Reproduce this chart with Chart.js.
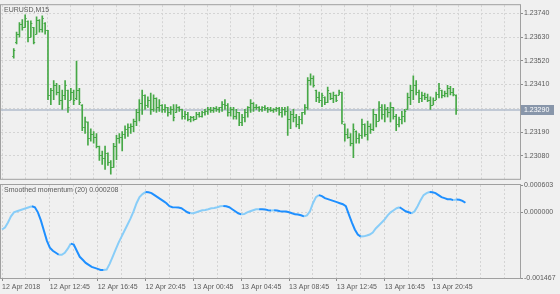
<!DOCTYPE html>
<html>
<head>
<meta charset="utf-8">
<script src="https://cdn.jsdelivr.net/npm/chart.js@4/dist/chart.umd.min.js"></script>
<style>
  body { margin: 0; background: #f0f0f0; }
  #wrap { position: relative; width: 560px; height: 294px; overflow: hidden; }
  canvas { position: absolute; left: 0; }
</style>
</head>
<body>
<div id="wrap">
  <canvas id="priceChart" width="560" height="184" style="top:0"></canvas>
  <canvas id="momChart" width="560" height="124" style="top:170px"></canvas>
</div>
<script>
// ---------- DATA ----------
const symbolLabel = "EURUSD,M15";
const indicatorName = "Smoothed momentum (20)";

// x tick labels, one every 16 bars (4 hours of M15)
const timeLabels = ['12 Apr 2018', '12 Apr 12:45', '12 Apr 16:45', '12 Apr 20:45', '13 Apr 00:45',
    '13 Apr 04:45', '13 Apr 08:45', '13 Apr 12:45', '13 Apr 16:45', '13 Apr 20:45'];

const priceTicks = [1.23740, 1.23630, 1.23520, 1.23410, 1.23300, 1.23190, 1.23080];
const momentumTicks = [0.000603, 0, -0.001467];

const openP = [
    1.23541, 1.23608, 1.23644, 1.23689, 1.23675, 1.23706, 1.23630, 1.23675, 1.23644, 1.23711,
    1.23666, 1.23697, 1.23662, 1.23362, 1.23384, 1.23407, 1.23375, 1.23340, 1.23362, 1.23384,
    1.23340, 1.23375, 1.23348, 1.23384, 1.23317, 1.23214, 1.23237, 1.23160, 1.23183, 1.23169,
    1.23125, 1.23084, 1.23071, 1.23093, 1.23049, 1.23026, 1.23125, 1.23160, 1.23169, 1.23183,
    1.23205, 1.23214, 1.23219, 1.23241, 1.23281, 1.23326, 1.23362, 1.23317, 1.23340, 1.23295,
    1.23348, 1.23304, 1.23317, 1.23295, 1.23304, 1.23281, 1.23295, 1.23281, 1.23308, 1.23295,
    1.23263, 1.23272, 1.23250, 1.23259, 1.23250, 1.23272, 1.23263, 1.23281, 1.23286, 1.23295,
    1.23290, 1.23299, 1.23295, 1.23304, 1.23322, 1.23313, 1.23281, 1.23295, 1.23263, 1.23281,
    1.23237, 1.23259, 1.23281, 1.23304, 1.23326, 1.23304, 1.23308, 1.23295, 1.23304, 1.23299,
    1.23295, 1.23290, 1.23295, 1.23299, 1.23281, 1.23295, 1.23286, 1.23250, 1.23272, 1.23259,
    1.23228, 1.23250, 1.23281, 1.23304, 1.23429, 1.23442, 1.23384, 1.23353, 1.23340, 1.23353,
    1.23331, 1.23371, 1.23348, 1.23362, 1.23362, 1.23375, 1.23228, 1.23183, 1.23169, 1.23138,
    1.23196, 1.23160, 1.23174, 1.23228, 1.23183, 1.23219, 1.23205, 1.23272, 1.23241, 1.23308,
    1.23272, 1.23295, 1.23281, 1.23304, 1.23263, 1.23228, 1.23250, 1.23263, 1.23295, 1.23353,
    1.23384, 1.23407, 1.23375, 1.23348, 1.23362, 1.23353, 1.23340, 1.23317, 1.23340, 1.23366,
    1.23384, 1.23362, 1.23371, 1.23393, 1.23375, 1.23362
];
const highP = [
    1.23577, 1.23653, 1.23697, 1.23711, 1.23733, 1.23706, 1.23706, 1.23675, 1.23724, 1.23711,
    1.23729, 1.23697, 1.23662, 1.23393, 1.23429, 1.23416, 1.23407, 1.23384, 1.23429, 1.23384,
    1.23393, 1.23384, 1.23519, 1.23393, 1.23317, 1.23259, 1.23237, 1.23205, 1.23192, 1.23183,
    1.23125, 1.23102, 1.23125, 1.23093, 1.23058, 1.23138, 1.23174, 1.23183, 1.23192, 1.23219,
    1.23228, 1.23228, 1.23250, 1.23295, 1.23340, 1.23384, 1.23362, 1.23353, 1.23371, 1.23362,
    1.23348, 1.23340, 1.23317, 1.23317, 1.23304, 1.23308, 1.23317, 1.23317, 1.23308, 1.23295,
    1.23286, 1.23281, 1.23263, 1.23263, 1.23281, 1.23281, 1.23286, 1.23295, 1.23304, 1.23304,
    1.23304, 1.23308, 1.23304, 1.23331, 1.23340, 1.23322, 1.23304, 1.23304, 1.23295, 1.23281,
    1.23272, 1.23295, 1.23308, 1.23340, 1.23326, 1.23317, 1.23308, 1.23308, 1.23313, 1.23304,
    1.23304, 1.23299, 1.23304, 1.23304, 1.23304, 1.23304, 1.23308, 1.23286, 1.23295, 1.23272,
    1.23263, 1.23281, 1.23317, 1.23442, 1.23460, 1.23451, 1.23384, 1.23375, 1.23371, 1.23353,
    1.23398, 1.23371, 1.23375, 1.23362, 1.23384, 1.23375, 1.23228, 1.23205, 1.23183, 1.23228,
    1.23196, 1.23183, 1.23250, 1.23228, 1.23241, 1.23228, 1.23295, 1.23272, 1.23331, 1.23317,
    1.23317, 1.23304, 1.23326, 1.23304, 1.23272, 1.23259, 1.23286, 1.23295, 1.23371, 1.23407,
    1.23451, 1.23429, 1.23384, 1.23375, 1.23371, 1.23366, 1.23353, 1.23348, 1.23375, 1.23416,
    1.23384, 1.23380, 1.23407, 1.23402, 1.23393, 1.23362
];
const lowP = [
    1.23532, 1.23599, 1.23630, 1.23662, 1.23675, 1.23608, 1.23630, 1.23599, 1.23644, 1.23653,
    1.23653, 1.23644, 1.23340, 1.23317, 1.23340, 1.23362, 1.23317, 1.23295, 1.23340, 1.23281,
    1.23340, 1.23317, 1.23340, 1.23317, 1.23196, 1.23183, 1.23129, 1.23147, 1.23138, 1.23116,
    1.23058, 1.23040, 1.23017, 1.23035, 1.22995, 1.23026, 1.23062, 1.23138, 1.23102, 1.23160,
    1.23169, 1.23183, 1.23192, 1.23219, 1.23241, 1.23272, 1.23295, 1.23304, 1.23272, 1.23286,
    1.23281, 1.23286, 1.23281, 1.23281, 1.23263, 1.23272, 1.23241, 1.23281, 1.23286, 1.23250,
    1.23250, 1.23241, 1.23237, 1.23241, 1.23250, 1.23259, 1.23259, 1.23268, 1.23272, 1.23281,
    1.23281, 1.23286, 1.23281, 1.23286, 1.23295, 1.23263, 1.23263, 1.23250, 1.23250, 1.23219,
    1.23219, 1.23237, 1.23259, 1.23281, 1.23286, 1.23295, 1.23286, 1.23286, 1.23290, 1.23281,
    1.23286, 1.23281, 1.23286, 1.23268, 1.23259, 1.23268, 1.23174, 1.23205, 1.23237, 1.23214,
    1.23205, 1.23228, 1.23272, 1.23295, 1.23407, 1.23398, 1.23331, 1.23326, 1.23308, 1.23317,
    1.23326, 1.23340, 1.23326, 1.23331, 1.23362, 1.23228, 1.23147, 1.23160, 1.23125, 1.23071,
    1.23138, 1.23138, 1.23160, 1.23169, 1.23152, 1.23183, 1.23196, 1.23214, 1.23241, 1.23250,
    1.23237, 1.23259, 1.23237, 1.23250, 1.23196, 1.23214, 1.23228, 1.23237, 1.23295, 1.23317,
    1.23340, 1.23362, 1.23326, 1.23331, 1.23340, 1.23331, 1.23295, 1.23317, 1.23340, 1.23348,
    1.23348, 1.23353, 1.23353, 1.23362, 1.23357, 1.23272
];
const closeP = [
    1.23572, 1.23644, 1.23689, 1.23675, 1.23720, 1.23630, 1.23697, 1.23608, 1.23711, 1.23666,
    1.23720, 1.23662, 1.23362, 1.23384, 1.23407, 1.23375, 1.23340, 1.23362, 1.23407, 1.23304,
    1.23375, 1.23340, 1.23384, 1.23331, 1.23214, 1.23241, 1.23160, 1.23183, 1.23169, 1.23125,
    1.23084, 1.23071, 1.23093, 1.23049, 1.23026, 1.23125, 1.23160, 1.23169, 1.23183, 1.23205,
    1.23214, 1.23219, 1.23241, 1.23281, 1.23326, 1.23362, 1.23317, 1.23340, 1.23295, 1.23348,
    1.23304, 1.23317, 1.23295, 1.23304, 1.23281, 1.23295, 1.23259, 1.23308, 1.23295, 1.23263,
    1.23272, 1.23250, 1.23259, 1.23250, 1.23272, 1.23263, 1.23281, 1.23286, 1.23295, 1.23290,
    1.23299, 1.23295, 1.23304, 1.23322, 1.23313, 1.23281, 1.23295, 1.23263, 1.23281, 1.23237,
    1.23259, 1.23281, 1.23304, 1.23326, 1.23304, 1.23308, 1.23295, 1.23304, 1.23299, 1.23295,
    1.23290, 1.23295, 1.23299, 1.23281, 1.23295, 1.23286, 1.23250, 1.23272, 1.23259, 1.23228,
    1.23250, 1.23281, 1.23304, 1.23429, 1.23442, 1.23407, 1.23353, 1.23340, 1.23362, 1.23331,
    1.23384, 1.23348, 1.23362, 1.23340, 1.23375, 1.23241, 1.23183, 1.23169, 1.23138, 1.23205,
    1.23160, 1.23174, 1.23228, 1.23183, 1.23219, 1.23205, 1.23272, 1.23241, 1.23308, 1.23272,
    1.23295, 1.23281, 1.23308, 1.23263, 1.23228, 1.23250, 1.23263, 1.23286, 1.23353, 1.23384,
    1.23407, 1.23375, 1.23348, 1.23362, 1.23353, 1.23340, 1.23317, 1.23340, 1.23366, 1.23393,
    1.23362, 1.23371, 1.23393, 1.23375, 1.23366, 1.23290
];

const momentum = [
    -0.000387, -0.000342, -0.000230, -0.000095, -0.000005, 0.000018, 0.000041, 0.000063, 0.000086, 0.000108,
    0.000131, 0.000108, -0.000005, -0.000185, -0.000410, -0.000635, -0.000792, -0.000860, -0.000905, -0.000950,
    -0.000950, -0.000905, -0.000815, -0.000702, -0.000725, -0.000860, -0.000995, -0.001062, -0.001130, -0.001175,
    -0.001220, -0.001242, -0.001265, -0.001287, -0.001290, -0.001280, -0.001152, -0.000995, -0.000837, -0.000680,
    -0.000545, -0.000410, -0.000275, -0.000140, 0.000018, 0.000198, 0.000333, 0.000401, 0.000446, 0.000440,
    0.000423, 0.000378, 0.000333, 0.000288, 0.000243, 0.000198, 0.000131, 0.000108, 0.000105, 0.000100,
    0.000086, 0.000041, -0.000005, -0.000027, -0.000025, -0.000005, 0.000018, 0.000041, 0.000045, 0.000063,
    0.000086, 0.000090, 0.000108, 0.000131, 0.000135, 0.000128, 0.000108, 0.000063, 0.000018, -0.000027,
    -0.000050, -0.000045, -0.000005, 0.000018, 0.000041, 0.000063, 0.000066, 0.000063, 0.000060, 0.000041,
    0.000038, 0.000041, 0.000036, 0.000018, 0.000015, 0.000012, -0.000005, -0.000027, -0.000050, -0.000055,
    -0.000072, -0.000095, -0.000072, 0.000018, 0.000198, 0.000333, 0.000378, 0.000356, 0.000311, 0.000288,
    0.000266, 0.000243, 0.000221, 0.000198, 0.000176, 0.000131, -0.000050, -0.000230, -0.000387, -0.000500,
    -0.000545, -0.000540, -0.000522, -0.000500, -0.000455, -0.000365, -0.000297, -0.000230, -0.000162, -0.000072,
    -0.000005, 0.000041, 0.000086, 0.000108, 0.000063, 0.000018, -0.000005, -0.000027, 0.000018, 0.000131,
    0.000266, 0.000378, 0.000423, 0.000446, 0.000440, 0.000423, 0.000378, 0.000333, 0.000311, 0.000288,
    0.000285, 0.000266, 0.000280, 0.000275, 0.000250, 0.000208
];

// ---------- CONFIG ----------
const X_MIN = -0.33, X_MAX = 173.25;
const PRICE_MIN = 1.22973, PRICE_MAX = 1.23778;
const BAR_COLOR = '#46a846';
const GRID_COLOR = '#d4d4d4';
const AXIS_COLOR = '#8c8c8c';
const TEXT_COLOR = '#5a5a5a';
const FONT = { family: "'Liberation Sans', Arial, sans-serif", size: 7 };
const lastClose = closeP[closeP.length - 1];
const lastMom = momentum[momentum.length - 1];

Chart.defaults.font.family = FONT.family;
Chart.defaults.font.size = FONT.size;
Chart.defaults.color = TEXT_COLOR;

const gridTicks = axis => {
    axis.ticks = [];
    for (let v = 0; v <= X_MAX; v += 8) axis.ticks.push({ value: v });
};

// frame round the plot area + small caption top-left
const framePlugin = (caption) => ({
    id: 'frame',
    afterDraw(chart) {
        const { ctx, chartArea: a } = chart;
        ctx.save();
        ctx.strokeStyle = '#a0a0a0';
        ctx.lineWidth = 1;
        ctx.strokeRect(a.left - 0.5, a.top - 0.5, a.right - a.left + 1, a.bottom - a.top + 1);
        ctx.font = `${FONT.size}px ${FONT.family}`;
        ctx.fillStyle = TEXT_COLOR;
        ctx.textBaseline = 'middle';
        ctx.fillText(caption(), a.left + 3, a.top + 5);
        ctx.restore();
    }
});

// open/close ticks + current price line and label
const ohlcPlugin = {
    id: 'ohlc',
    beforeDatasetsDraw(chart) {
        const { ctx, chartArea: a, scales: { y } } = chart;
        const py = Math.round(y.getPixelForValue(lastClose));
        ctx.save();
        ctx.strokeStyle = '#b2bdcc';
        ctx.lineWidth = 1.5;
        ctx.beginPath();
        ctx.moveTo(a.left, py);
        ctx.lineTo(a.right, py);
        ctx.stroke();
        ctx.restore();
    },
    afterDatasetsDraw(chart) {
        const { ctx, scales: { x, y } } = chart;
        ctx.save();
        ctx.strokeStyle = BAR_COLOR;
        ctx.lineWidth = 1;
        ctx.beginPath();
        closeP.forEach((c, i) => {
            const px = x.getPixelForValue(i);
            const yo = Math.round(y.getPixelForValue(openP[i])) + 0.5;
            const yc = Math.round(y.getPixelForValue(c)) + 0.5;
            ctx.moveTo(px - 1.5, yo); ctx.lineTo(px, yo);
            ctx.moveTo(px, yc); ctx.lineTo(px + 1.5, yc);
        });
        ctx.stroke();
        ctx.restore();
    },
    afterDraw(chart) {
        const { ctx, chartArea: a, scales: { y } } = chart;
        const py = Math.round(y.getPixelForValue(lastClose));
        ctx.save();
        ctx.fillStyle = '#8896aa';
        ctx.fillRect(a.right + 1, py - 5, 33, 10);
        ctx.fillStyle = '#ffffff';
        ctx.font = `${FONT.size}px ${FONT.family}`;
        ctx.textBaseline = 'middle';
        ctx.fillText(lastClose.toFixed(5), a.right + 4, py + 0.5);
        ctx.restore();
    }
};

// ---------- PRICE CHART ----------
new Chart(document.getElementById('priceChart'), {
    type: 'bar',
    data: {
        datasets: [{
            data: closeP.map((c, i) => ({ x: i, y: [lowP[i], highP[i]] })),
            backgroundColor: BAR_COLOR,
            borderWidth: 0,
            barThickness: 1
        }]
    },
    options: {
        responsive: false,
        animation: false,
        devicePixelRatio: 1,
        events: [],
        layout: { padding: { top: 2, bottom: 2, left: 1, right: 0 } },
        plugins: { legend: { display: false }, tooltip: { enabled: false } },
        scales: {
            x: {
                type: 'linear', min: X_MIN, max: X_MAX,
                afterBuildTicks: gridTicks,
                ticks: { display: false },
                grid: { color: GRID_COLOR, drawTicks: false },
                border: { display: false, dash: [2, 2] }
            },
            y: {
                position: 'right', min: PRICE_MIN, max: PRICE_MAX,
                afterBuildTicks: axis => { axis.ticks = priceTicks.map(v => ({ value: v })); },
                afterFit: s => { s.width = 40; },
                ticks: {
                    padding: 1,
                    callback: v => Math.abs(v - lastClose) < 0.0003 ? '' : v.toFixed(5)
                },
                grid: { color: GRID_COLOR, tickLength: 3, tickColor: AXIS_COLOR, tickBorderDash: [] },
                border: { display: true, color: AXIS_COLOR, dash: [2, 2] }
            }
        }
    },
    plugins: [ohlcPlugin, framePlugin(() => symbolLabel)]
});

// ---------- MOMENTUM CHART ----------
new Chart(document.getElementById('momChart'), {
    type: 'line',
    data: {
        datasets: [{
            data: momentum.map((v, i) => ({ x: i, y: v })),
            borderWidth: 2,
            pointRadius: 0,
            tension: 0,
            segment: {
                borderColor: ctx => ctx.p1.parsed.y < ctx.p0.parsed.y ? '#1e8fff' : '#88cdf8'
            }
        }]
    },
    options: {
        responsive: false,
        animation: false,
        devicePixelRatio: 1,
        events: [],
        layout: { padding: { top: 15, bottom: 0, left: 1, right: 0 } },
        plugins: { legend: { display: false }, tooltip: { enabled: false } },
        scales: {
            x: {
                type: 'linear', min: X_MIN, max: X_MAX,
                afterBuildTicks: gridTicks,
                afterFit: s => { s.height = 16; },
                ticks: {
                    autoSkip: false, maxRotation: 0, align: 'start', padding: 2,
                    callback: v => (v % 16 === 0 && timeLabels[v / 16]) ? timeLabels[v / 16] : ''
                },
                grid: {
                    color: GRID_COLOR, tickLength: 3, tickBorderDash: [],
                    tickColor: ctx => (ctx.tick && ctx.tick.label) ? AXIS_COLOR : 'rgba(0,0,0,0)'
                },
                border: { display: true, color: AXIS_COLOR, dash: [2, 2] }
            },
            y: {
                position: 'right', min: momentumTicks[2], max: momentumTicks[0],
                afterBuildTicks: axis => { axis.ticks = momentumTicks.map(v => ({ value: v })); },
                afterFit: s => { s.width = 40; },
                ticks: { padding: 1, callback: v => v.toFixed(6) },
                grid: {
                    color: ctx => (ctx.tick && ctx.tick.value === 0) ? GRID_COLOR : 'rgba(0,0,0,0)',
                    tickLength: 3, tickColor: AXIS_COLOR, tickBorderDash: []
                },
                border: { display: true, color: AXIS_COLOR, dash: [2, 2] }
            }
        }
    },
    plugins: [framePlugin(() => `${indicatorName} ${lastMom.toFixed(6)}`)]
});
</script>
</body>
</html>
